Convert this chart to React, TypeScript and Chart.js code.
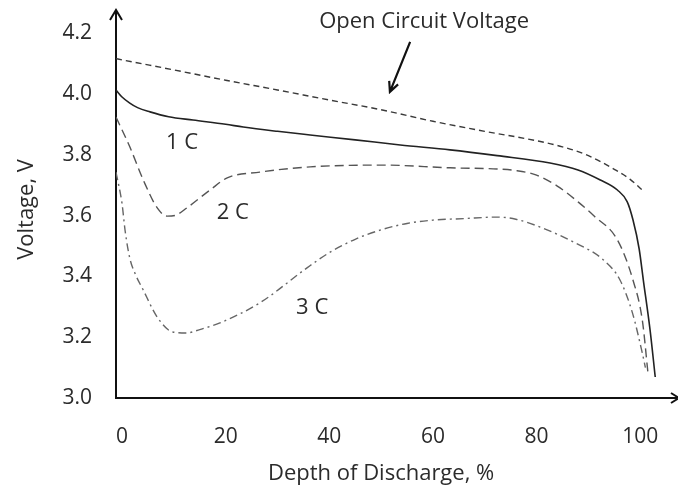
import React, { useEffect, useRef } from "react";
import { Chart, registerables } from "chart.js";

Chart.register(...registerables);

const X_TICKS = [0, 20, 40, 60, 80, 100];
const Y_TICKS = [3.0, 3.2, 3.4, 3.6, 3.8, 4.0, 4.2];

const ocvX = [-1.16, 0, 10, 20, 30, 40, 50, 60, 70, 80, 85, 90, 95, 98, 100.4];
const ocvY = [4.116, 4.112, 4.079, 4.045, 4.013, 3.98, 3.948, 3.91, 3.877, 3.846, 3.826, 3.797, 3.752, 3.72, 3.684];

const c1X = [-1.16, 0, 1.5, 3, 5.4, 9, 13.7, 20, 23.4, 30, 36.3, 45, 53.7, 63.3, 72.4, 82.6, 88, 92.3, 95.6, 97.5, 98.6, 99.8, 100.6, 101.9, 102.9];
const c1Y = [4.013, 3.99, 3.97, 3.955, 3.941, 3.925, 3.914, 3.9, 3.891, 3.877, 3.865, 3.849, 3.832, 3.816, 3.797, 3.773, 3.75, 3.717, 3.684, 3.645, 3.586, 3.49, 3.388, 3.224, 3.069];

const c2X = [-1.16, 1.5, 4.1, 6.8, 8.7, 10.5, 12.5, 17, 20.3, 26.6, 36.3, 50.4, 63.3, 72.4, 76, 80, 84, 88, 91, 95.6, 98.6, 100.4, 101.5];
const c2Y = [3.924, 3.826, 3.717, 3.625, 3.598, 3.602, 3.625, 3.684, 3.724, 3.743, 3.76, 3.766, 3.757, 3.753, 3.748, 3.733, 3.697, 3.645, 3.6, 3.52, 3.388, 3.257, 3.082];

const c3X = [-1.16, 0, 0.6, 1.5, 2.5, 4.1, 6.8, 9.8, 12.5, 15, 18.9, 26.6, 35.7, 40, 45, 50, 55, 60, 66, 72.4, 76, 80.7, 87.1, 92.9, 96.1, 98.5, 100.4, 101];
const c3Y = [3.743, 3.64, 3.55, 3.46, 3.41, 3.355, 3.266, 3.217, 3.214, 3.225, 3.247, 3.313, 3.428, 3.478, 3.522, 3.553, 3.574, 3.585, 3.59, 3.595, 3.588, 3.562, 3.513, 3.454, 3.388, 3.28, 3.148, 3.1];

const curveLabels = ["1 C", "2 C", "3 C"];
const curveLabelX = [11.6, 21.4, 36.7];
const curveLabelY = [3.839, 3.609, 3.296];

const OCV_TEXT = "Open Circuit Voltage";
const ocvTextPos = [58.3, 4.237];
const ocvArrowFrom = [55.6, 4.171];
const ocvArrowTo = [51.7, 4.007];

const X_TITLE = "Depth of Discharge, %";
const Y_TITLE = "Voltage, V";

const FONT = "'Open Sans', sans-serif";
const TEXT_COLOR = "#2b2b2b";

const pts = (xs: number[], ys: number[]) => xs.map((x, i) => ({ x, y: ys[i] }));

const drawPlugin = {
  id: "decor",
  beforeDatasetsDraw(chart: any) {
    const { ctx, chartArea } = chart;
    const { left, right, top, bottom } = chartArea;
    ctx.save();
    ctx.strokeStyle = "#111";
    ctx.lineWidth = 2;
    ctx.lineCap = "butt";
    ctx.beginPath();
    ctx.moveTo(left, bottom + 1);
    ctx.lineTo(left, top + 1);
    ctx.moveTo(left - 1, bottom);
    ctx.lineTo(right, bottom);
    ctx.stroke();
    ctx.beginPath();
    ctx.moveTo(left - 6, top + 10);
    ctx.lineTo(left, top);
    ctx.lineTo(left + 6, top + 10);
    ctx.moveTo(right - 6, bottom - 5);
    ctx.lineTo(right + 2, bottom);
    ctx.lineTo(right - 6, bottom + 5);
    ctx.stroke();
    ctx.restore();
  },
  afterDatasetsDraw(chart: any) {
    const { ctx, scales } = chart;
    const xs = scales.x;
    const ys = scales.y;
    ctx.save();
    ctx.fillStyle = TEXT_COLOR;
    ctx.font = `22px ${FONT}`;
    ctx.textAlign = "center";
    ctx.textBaseline = "middle";
    ctx.fillText(OCV_TEXT, xs.getPixelForValue(ocvTextPos[0]), ys.getPixelForValue(ocvTextPos[1]));
    curveLabels.forEach((t, i) => {
      ctx.fillText(t, xs.getPixelForValue(curveLabelX[i]), ys.getPixelForValue(curveLabelY[i]));
    });
    const x0 = xs.getPixelForValue(ocvArrowFrom[0]);
    const y0 = ys.getPixelForValue(ocvArrowFrom[1]);
    const x1 = xs.getPixelForValue(ocvArrowTo[0]);
    const y1 = ys.getPixelForValue(ocvArrowTo[1]);
    ctx.strokeStyle = "#111";
    ctx.lineWidth = 2.2;
    ctx.beginPath();
    ctx.moveTo(x0, y0);
    ctx.lineTo(x1, y1);
    const ang = Math.atan2(y1 - y0, x1 - x0);
    const hl = 11;
    ctx.moveTo(x1 - hl * Math.cos(ang - 0.45), y1 - hl * Math.sin(ang - 0.45));
    ctx.lineTo(x1, y1);
    ctx.lineTo(x1 - hl * Math.cos(ang + 0.45), y1 - hl * Math.sin(ang + 0.45));
    ctx.stroke();
    ctx.font = `22px ${FONT}`;
    ctx.fillText(X_TITLE, xs.getPixelForValue(50), chart.chartArea.bottom + 76);
    ctx.translate(27, ys.getPixelForValue(3.62));
    ctx.rotate(-Math.PI / 2);
    ctx.fillText(Y_TITLE, 0, 0);
    ctx.restore();
  },
};

export default function App() {
  const ref = useRef<HTMLCanvasElement>(null);
  useEffect(() => {
    if (!ref.current) return;
    const chart = new Chart(ref.current, {
      type: "line",
      data: {
        datasets: [
          { data: pts(ocvX, ocvY), borderColor: "#3a3a3a", borderWidth: 1.4, borderDash: [6, 4] },
          { data: pts(c3X, c3Y), borderColor: "#666", borderWidth: 1.4, borderDash: [8, 4, 2, 4] },
          { data: pts(c2X, c2Y), borderColor: "#555", borderWidth: 1.4, borderDash: [9, 5] },
          { data: pts(c1X, c1Y), borderColor: "#222", borderWidth: 1.6 },
        ].map((d) => ({ ...d, pointRadius: 0, fill: false, cubicInterpolationMode: "monotone" as const })),
      },
      options: {
        animation: false,
        responsive: false,
        devicePixelRatio: 1,
        layout: { padding: { top: 10, right: 1, left: 0, bottom: 0 } },
        plugins: { legend: { display: false }, tooltip: { enabled: false } },
        scales: {
          x: {
            type: "linear",
            min: -1.16,
            max: 107.1,
            grid: { display: false, drawTicks: false },
            border: { display: false },
            ticks: { padding: 26, color: TEXT_COLOR, font: { family: FONT, size: 21 } },
            afterBuildTicks: (s: any) => {
              s.ticks = X_TICKS.map((v) => ({ value: v }));
            },
            afterFit: (s: any) => {
              s.height = 92;
              s.paddingLeft = 0;
              s.paddingRight = 0;
            },
          },
          y: {
            type: "linear",
            min: 3.0,
            max: 4.276,
            grid: { display: false, drawTicks: false },
            border: { display: false },
            ticks: { padding: 24, color: TEXT_COLOR, font: { family: FONT, size: 21 }, callback: (v: any) => Number(v).toFixed(1) },
            afterBuildTicks: (s: any) => {
              s.ticks = Y_TICKS.map((v) => ({ value: v }));
            },
            afterFit: (s: any) => {
              s.width = 116;
              s.paddingTop = 0;
              s.paddingBottom = 0;
            },
          },
        },
      },
      plugins: [drawPlugin],
    });
    return () => chart.destroy();
  }, []);
  return (
    <div style={{ position: "fixed", left: 0, top: 0, width: 678, height: 490, background: "#fff" }}>
      <canvas ref={ref} width={678} height={490} style={{ width: 678, height: 490 }} />
    </div>
  );
}
